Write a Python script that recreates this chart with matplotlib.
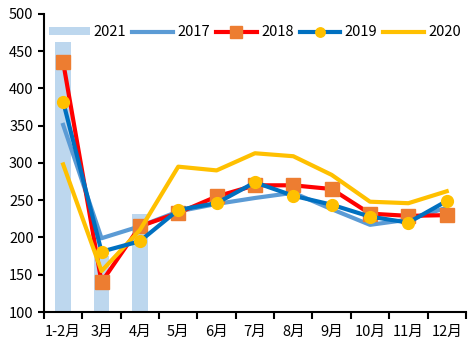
import numpy as np
import matplotlib
matplotlib.use("Agg")
import matplotlib.pyplot as plt
from matplotlib.ticker import FixedLocator

plt.rcParams['font.family'] = ['Noto Sans CJK SC', 'DejaVu Sans']

months = ["1-2月", "3月", "4月", "5月", "6月", "7月", "8月", "9月", "10月", "11月", "12月"]
y2021 = [462, 175, 232]
y2017 = [351, 199, 215, 235, 245, 253, 260, 238, 217, 224, 240]
y2018 = [435, 140, 215, 233, 255, 270, 270, 265, 232, 229, 230]
y2019 = [382, 181, 195, 237, 246, 274, 256, 244, 228, 220, 249]
y2020 = [298, 155, 210, 295, 290, 313, 309, 284, 248, 246, 262]

fig = plt.figure(figsize=(4.73, 3.55), dpi=100)
ax = fig.add_axes([0.093, 0.121, 0.892, 0.84])
x = np.arange(len(months))

ax.bar(x[:len(y2021)], y2021, width=0.4, color="#BDD7EE", label="2021", zorder=1)
ax.plot(x, y2017, color="#5B9BD5", lw=3, label="2017", zorder=2)
ax.plot(x, y2018, color="#FF0000", lw=3, marker="s", ms=10, mfc="#ED7D31", mec="#ED7D31",
        label="2018", zorder=3)
ax.plot(x, y2019, color="#0070C0", lw=3, marker="o", ms=8.5, mfc="#FFC000", mec="#FFC000",
        label="2019", zorder=4)
ax.plot(x, y2020, color="#FFC000", lw=3, label="2020", zorder=3)

ax.set_ylim(100, 500)
ax.set_yticks(range(100, 501, 50))
ax.set_xlim(-0.5, len(months) - 0.5)
ax.set_xticks(x)
ax.set_xticklabels(months)
ax.xaxis.set_minor_locator(FixedLocator(np.arange(-0.5, len(months), 1.0)))
ax.tick_params(axis="x", which="major", length=0, pad=9, labelsize=10.5)
ax.tick_params(axis="x", which="minor", length=5, width=1.5, direction="out")
ax.tick_params(axis="y", length=4, width=1.5, labelsize=10.5)
for s in ["top", "right"]:
    ax.spines[s].set_visible(False)
for s in ["left", "bottom"]:
    ax.spines[s].set_linewidth(1.5)
    ax.spines[s].set_color("black")

handles, labels = ax.get_legend_handles_labels()
order = [labels.index(l) for l in ["2021", "2017", "2018", "2019", "2020"]]
ax.legend([handles[i] for i in order], [labels[i] for i in order],
          loc="upper center", bbox_to_anchor=(0.5, 1.005), ncol=5, frameon=False,
          handlelength=2.8, handleheight=0.5, handletextpad=0.3, columnspacing=0.4,
          fontsize=10.5, markerscale=0.8)

fig.savefig("out.png", dpi=100)
